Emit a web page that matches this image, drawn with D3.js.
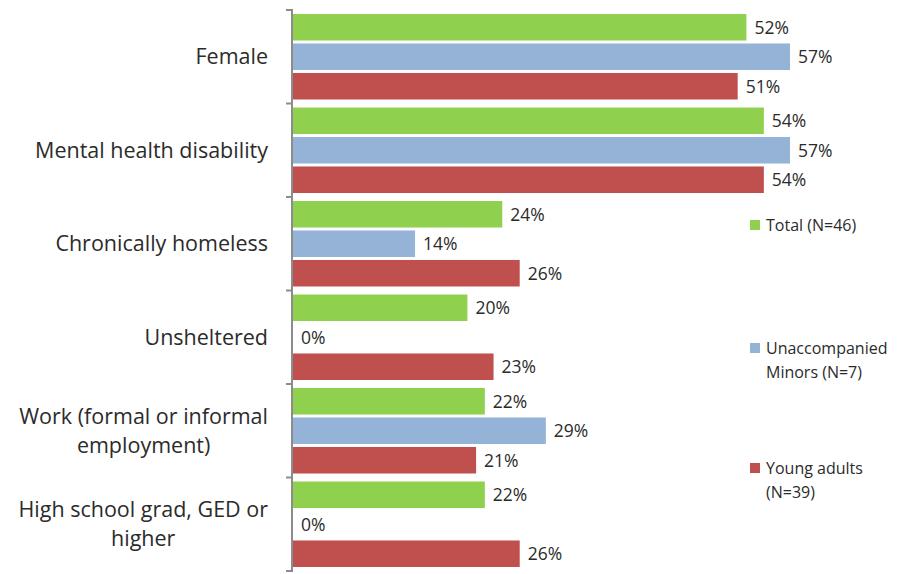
<!DOCTYPE html>
<html>
<head>
<meta charset="utf-8">
<script src="https://cdn.jsdelivr.net/npm/d3@7"></script>
<style>
  html, body { margin: 0; padding: 0; background: #fff; }
  svg text { font-family: "Open Sans", Lato, sans-serif; fill: #2b2b2b; }
</style>
</head>
<body>
<svg id="chart" width="911" height="574"></svg>
<script>
// Characteristics of youth, by group
const categories = [
  ["Female"],
  ["Mental health disability"],
  ["Chronically homeless"],
  ["Unsheltered"],
  ["Work (formal or informal", "employment)"],
  ["High school grad, GED or", "higher"]
];
const seriesNames = ["Total (N=46)", "Unaccompanied Minors (N=7)", "Young adults (N=39)"];
const legendLines = [["Total (N=46)"], ["Unaccompanied", "Minors (N=7)"], ["Young adults", "(N=39)"]];
const totalValues = [52, 54, 24, 20, 22, 22];
const minorsValues = [57, 57, 14, 0, 29, 0];
const youngAdultValues = [51, 54, 26, 23, 21, 26];
const seriesColors = ["#8fd14f", "#95b3d7", "#c0504d"];

const svg = d3.select("#chart");
const catKeys = categories.map((c, i) => i);
const series = [totalValues, minorsValues, youngAdultValues];

const y = d3.scaleBand().domain(catKeys).range([10, 571]).padding(0);
const yInner = d3.scaleBand().domain(d3.range(3)).range([4, y.bandwidth() - 4]).paddingInner(0.1);
const x = d3.scaleLinear().domain([0, 57]).range([293, 790]);

// Bars with value labels
const groups = svg.append("g").selectAll("g")
  .data(catKeys).join("g")
  .attr("transform", d => `translate(0,${y(d)})`);

groups.each(function(ci) {
  const g = d3.select(this);
  series.forEach((vals, si) => {
    const v = vals[ci];
    g.append("rect")
      .attr("x", x(0))
      .attr("y", yInner(si))
      .attr("width", x(v) - x(0))
      .attr("height", yInner.bandwidth())
      .attr("fill", seriesColors[si]);
    g.append("text")
      .attr("x", x(v) + 8)
      .attr("y", yInner(si) + yInner.bandwidth() / 2)
      .attr("dy", "0.36em")
      .attr("font-size", 17.5)
      .text(v + "%");
  });
});

// Category axis with boundary ticks between groups
const bounds = catKeys.map(k => y(k)).concat([y(catKeys[catKeys.length - 1]) + y.bandwidth()]);
const axisG = svg.append("g").attr("transform", `translate(${x(0) - 1},0)`);
axisG.append("path")
  .attr("d", `M-6,${bounds[0]}H0V${bounds[bounds.length - 1]}H-6`)
  .attr("fill", "none").attr("stroke", "#8c8c8c").attr("stroke-width", 2);
axisG.selectAll("line.bound").data(bounds.slice(1, -1)).join("line")
  .attr("class", "bound")
  .attr("x1", -6).attr("x2", 0)
  .attr("y1", d => d).attr("y2", d => d)
  .attr("stroke", "#8c8c8c").attr("stroke-width", 2);

// Category labels: block right-aligned, lines centred within the block
const labelRight = 268;
const lineH = 29;
catKeys.forEach(ci => {
  const lines = categories[ci];
  const cy = y(ci) + y.bandwidth() / 2;
  const t = svg.append("g");
  const texts = lines.map((ln, li) => t.append("text")
    .attr("font-size", 21.5)
    .attr("y", cy + (li - (lines.length - 1) / 2) * lineH)
    .attr("dy", "0.36em")
    .attr("text-anchor", "middle")
    .text(ln));
  const maxW = d3.max(texts, tx => tx.node().getComputedTextLength());
  texts.forEach(tx => tx.attr("x", labelRight - maxW / 2));
});

// Legend
const legendY = [225, 360, 480];
legendLines.forEach((lines, i) => {
  const g = svg.append("g").attr("transform", `translate(750,${legendY[i]})`);
  const top = -(lines.length - 1) * 24 / 2;
  g.append("rect").attr("x", 0).attr("y", top - 5).attr("width", 10).attr("height", 10).attr("fill", seriesColors[i]);
  lines.forEach((ln, li) => {
    g.append("text").attr("x", 16).attr("y", top + li * 24).attr("dy", "0.36em")
      .attr("font-size", 16).text(ln);
  });
});
</script>
</body>
</html>
